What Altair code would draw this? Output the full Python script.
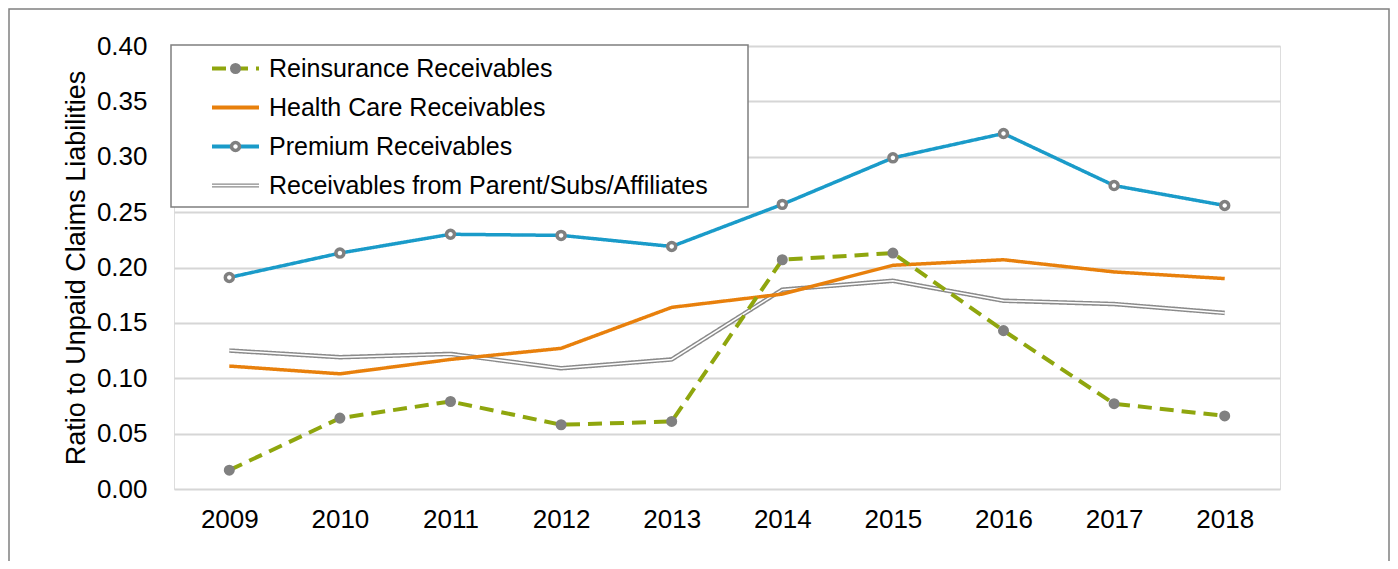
import altair as alt
import pandas as pd

FONT = "Liberation Sans"

years = ["2009", "2010", "2011", "2012", "2013", "2014", "2015", "2016", "2017", "2018"]
series_names = [
    "Reinsurance Receivables",
    "Health Care Receivables",
    "Premium Receivables",
    "Receivables from Parent/Subs/Affiliates",
]
reinsurance = [0.017, 0.064, 0.079, 0.058, 0.061, 0.207, 0.213, 0.143, 0.077, 0.066]
health_care = [0.111, 0.104, 0.117, 0.127, 0.164, 0.176, 0.202, 0.207, 0.196, 0.190]
premium = [0.191, 0.213, 0.230, 0.229, 0.219, 0.257, 0.299, 0.321, 0.274, 0.256]
parent = [0.125, 0.119, 0.122, 0.109, 0.117, 0.180, 0.188, 0.170, 0.167, 0.159]
y_ticks = [0.0, 0.05, 0.10, 0.15, 0.20, 0.25, 0.30, 0.35, 0.40]

colors = ["#8fa60e", "#e8800c", "#1a9bc9", "#8a8a8a"]
dashes = [[14, 8], [1, 0], [1, 0], [1, 0]]
widths = [4, 3.5, 3.5, 4.5]

rows = []
for name, vals in zip(series_names, [reinsurance, health_care, premium, parent]):
    for yr, v in zip(years, vals):
        rows.append({"year": yr, "value": v, "series": name, "mkey": name + " "})
df = pd.DataFrame(rows)
marker_keys = [n + " " for n in series_names]

X = alt.X("year:O", scale=alt.Scale(domain=years, padding=0.5),
          axis=alt.Axis(title=None, labelAngle=0, labelFontSize=26, labelPadding=17,
                        ticks=False, domain=False, grid=False, labelColor="black",
                        labelFont=FONT))
Y = alt.Y("value:Q", scale=alt.Scale(domain=[0, 0.4], nice=False, zero=True),
          axis=alt.Axis(values=y_ticks, format=".2f", grid=True, gridColor="#d6d6d6",
                        gridWidth=2, ticks=False, domain=False, labelPadding=27,
                        labelFontSize=26, labelColor="black", labelFont=FONT,
                        title="Ratio to Unpaid Claims Liabilities", titleFontSize=27,
                        titleFontWeight="normal", titleColor="black", titleFont=FONT,
                        titlePadding=6))

color_scale = alt.Scale(domain=series_names, range=colors)
dash_scale = alt.Scale(domain=series_names, range=dashes)

SYM = 2209  # 47 px wide legend symbols
legend_common = dict(title=None, orient="none", legendX=36, legendY=-3, padding=0,
                     rowPadding=0, symbolSize=SYM, labelFontSize=25, labelFont=FONT,
                     labelColor="black", labelOffset=8, labelLimit=0)
legend_lines = alt.Legend(symbolType="stroke", symbolStrokeWidth=4, **legend_common)
legend_marks = alt.Legend(symbolStrokeWidth=3.5, labelOpacity=0, zindex=1, **legend_common)

base = alt.Chart(df)

frame_data = pd.DataFrame({"k": [0]})
outer_border = alt.Chart(frame_data).mark_rect(
    fill="transparent", stroke="#808080", strokeWidth=1.5
).encode(x=alt.value(-165), x2=alt.value(1215), y=alt.value(-37), y2=alt.value(520))
legend_box = alt.Chart(frame_data).mark_rect(
    fill="white", stroke="#7f7f7f", strokeWidth=1.5
).encode(x=alt.value(-3), x2=alt.value(574), y=alt.value(-1), y2=alt.value(161))


def line_layer(i):
    return base.transform_filter(alt.datum.series == series_names[i]).mark_line(
        strokeWidth=widths[i]
    ).encode(
        x=X, y=Y,
        color=alt.Color("series:N", scale=color_scale, legend=legend_lines),
        strokeDash=alt.StrokeDash("series:N", scale=dash_scale, legend=legend_lines),
    )


parent_inner = base.transform_filter(alt.datum.series == series_names[3]).mark_line(
    color="white", strokeWidth=1.5
).encode(x=X, y=Y)

dot_path = "M-0.16,0A0.16,0.16,0,1,0,0.16,0A0.16,0.16,0,1,0,-0.16,0Z"
ring_path = "M-0.17,0A0.17,0.17,0,1,0,0.17,0A0.17,0.17,0,1,0,-0.17,0Z"
bar_path = "M-1,-0.034H1V0.034H-1Z"

points = base.transform_filter(
    alt.FieldOneOfPredicate(field="series", oneOf=[series_names[0], series_names[2]])
).mark_point(opacity=1, size=SYM, strokeWidth=3.5).encode(
    x=X, y=Y,
    shape=alt.Shape("mkey:N", scale=alt.Scale(domain=marker_keys,
                    range=[dot_path, dot_path, ring_path, bar_path]), legend=legend_marks),
    fill=alt.Fill("mkey:N", scale=alt.Scale(domain=marker_keys,
                  range=["#808080", "transparent", "white", "white"]), legend=legend_marks),
    stroke=alt.Stroke("mkey:N", scale=alt.Scale(domain=marker_keys,
                      range=["#808080", "transparent", "#808080", "transparent"]),
                      legend=legend_marks),
)

chart = alt.layer(
    outer_border,
    legend_box,
    line_layer(3),
    parent_inner,
    line_layer(1),
    line_layer(0),
    line_layer(2),
    points,
).properties(
    width=1106, height=443,
    autosize=alt.AutoSizeParams(type="none"),
    padding={"left": 166, "top": 38, "right": 110, "bottom": 72},
).configure_view(stroke=None).configure(font=FONT)

chart.save("out.html", embed_options={"renderer": "svg", "actions": False})
